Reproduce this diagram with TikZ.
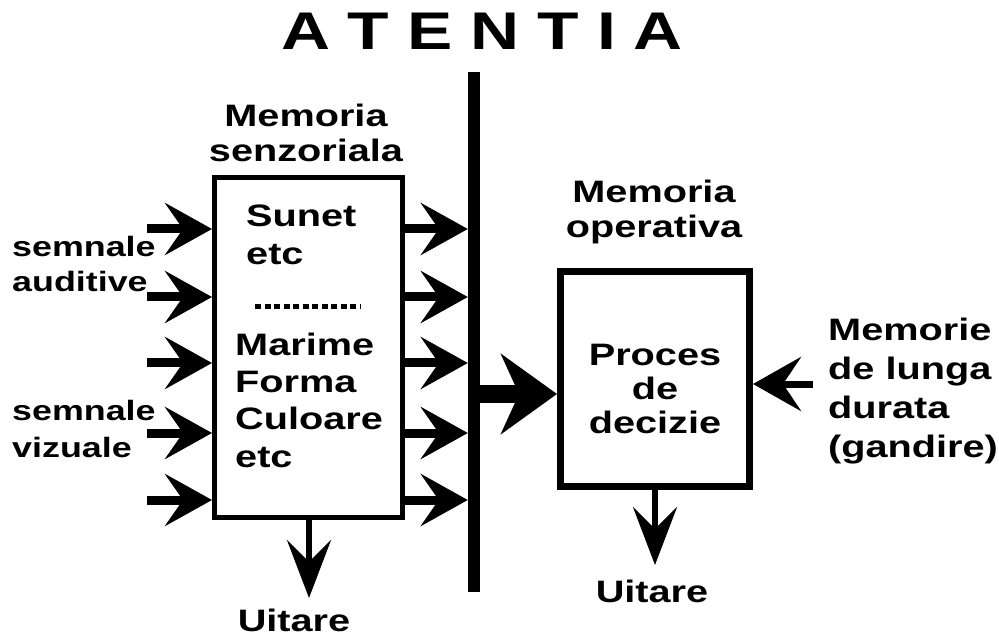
\documentclass[tikz,border=0pt]{standalone}
\usepackage{fontspec}
\newfontfamily\labelfont[FakeStretch=1.28]{Liberation Sans}
\usetikzlibrary{arrows.meta}

\tikzset{
  lbl/.style={inner sep=0pt, font=\labelfont\bfseries\fontsize{31}{36}\selectfont},
  smalllbl/.style={inner sep=0pt, font=\labelfont\bfseries\fontsize{28}{35}\selectfont},
  memorybox/.style={draw=black, fill=white, rectangle, inner sep=0pt},
  inarrow/.style={line width=9pt, -{Stealth[length=47pt,width=52pt,inset=18pt]}},
  bigarrow/.style={line width=18pt, -{Stealth[length=56pt,width=80pt,inset=18pt]}},
  sidearrow/.style={line width=7pt, -{Stealth[length=48pt,width=54pt,inset=18pt]}},
  downarrow/.style={line width=6pt, -{Stealth[length=58pt,width=44pt,inset=22pt]}},
}

\begin{document}
\begin{tikzpicture}[x=1pt, y=-1pt]
  \useasboundingbox (0,0) rectangle (999,636);
  \fill[white] (0,0) rectangle (999,636);

  % title
  \node[lbl, anchor=base, font=\labelfont\bfseries\fontsize{53}{60}\selectfont] (title) at (482,50)
    {A\hspace{18pt}T\hspace{18pt}E\hspace{18pt}N\hspace{18pt}T\hspace{18pt}I\hspace{18pt}A};

  % attention bar
  \node[fill=black, rectangle, inner sep=0pt, minimum width=12pt, minimum height=520pt] (bar) at (474,332) {};

  % sensory memory (multi-line labels are anchored at their last baseline)
  \node[memorybox, line width=5pt, minimum width=188pt, minimum height=340pt] (box1) at (308.5,347.5) {};
  \node[lbl, align=center, anchor=base, font=\labelfont\bfseries\fontsize{31}{35}\selectfont] (msenz) at (306,162) {Memoria\\senzoriala};
  \node[lbl, align=left, anchor=base west, font=\labelfont\bfseries\fontsize{31}{38}\selectfont] (sunet) at (246,265) {Sunet\\etc};
  \draw[line width=5pt, dash pattern=on 6pt off 3.5pt] (255,307) -- (361,307);
  \node[lbl, align=left, anchor=base west, font=\labelfont\bfseries\fontsize{31}{37.3}\selectfont] (marime) at (235,467) {Marime\\Forma\\Culoare\\etc};

  % inputs
  \node[smalllbl, align=left, anchor=base west] (saud) at (12,292) {semnale\\auditive};
  \node[smalllbl, align=left, anchor=base west, font=\labelfont\bfseries\fontsize{28}{37}\selectfont] (sviz) at (12,457) {semnale\\vizuale};

  \foreach \i/\y in {1/229, 2/297, 3/363, 4/433, 5/500} {
    \coordinate (in\i) at (147,\y);
    \draw[inarrow] (in\i) -- (box1.west |- in\i);
    \draw[inarrow] (box1.east |- in\i) -- (bar.west |- in\i);
  }

  % forgetting from sensory memory
  \coordinate (forget1) at (309,598);
  \draw[downarrow] (box1.south -| forget1) -- (forget1);
  \node[lbl, anchor=base] (uit1) at (294,631) {Uitare};

  % working memory
  \node[memorybox, line width=7pt, minimum width=189pt, minimum height=215pt] (box2) at (655,379) {};
  \node[lbl, align=center, anchor=base, font=\labelfont\bfseries\fontsize{31}{35}\selectfont] (mop) at (654,238) {Memoria\\operativa};
  \node[lbl, align=center, anchor=base, font=\labelfont\bfseries\fontsize{31}{34}\selectfont] (proces) at (655,433) {Proces\\de\\decizie};

  \coordinate (mid) at (0,394);
  \draw[bigarrow] (bar.east |- mid) -- (box2.west |- mid);

  % long-term memory
  \node[lbl, align=left, anchor=base west, font=\labelfont\bfseries\fontsize{31}{39}\selectfont] (mlung) at (828,457) {Memorie\\de lunga\\durata\\(gandire)};
  \coordinate (ltm) at (813,384);
  \draw[sidearrow] (ltm) -- (box2.east |- ltm);

  % forgetting from working memory
  \coordinate (forget2) at (655,565);
  \draw[downarrow] (box2.south) -- (forget2);
  \node[lbl, anchor=base] (uit2) at (652,602) {Uitare};
\end{tikzpicture}
\end{document}
